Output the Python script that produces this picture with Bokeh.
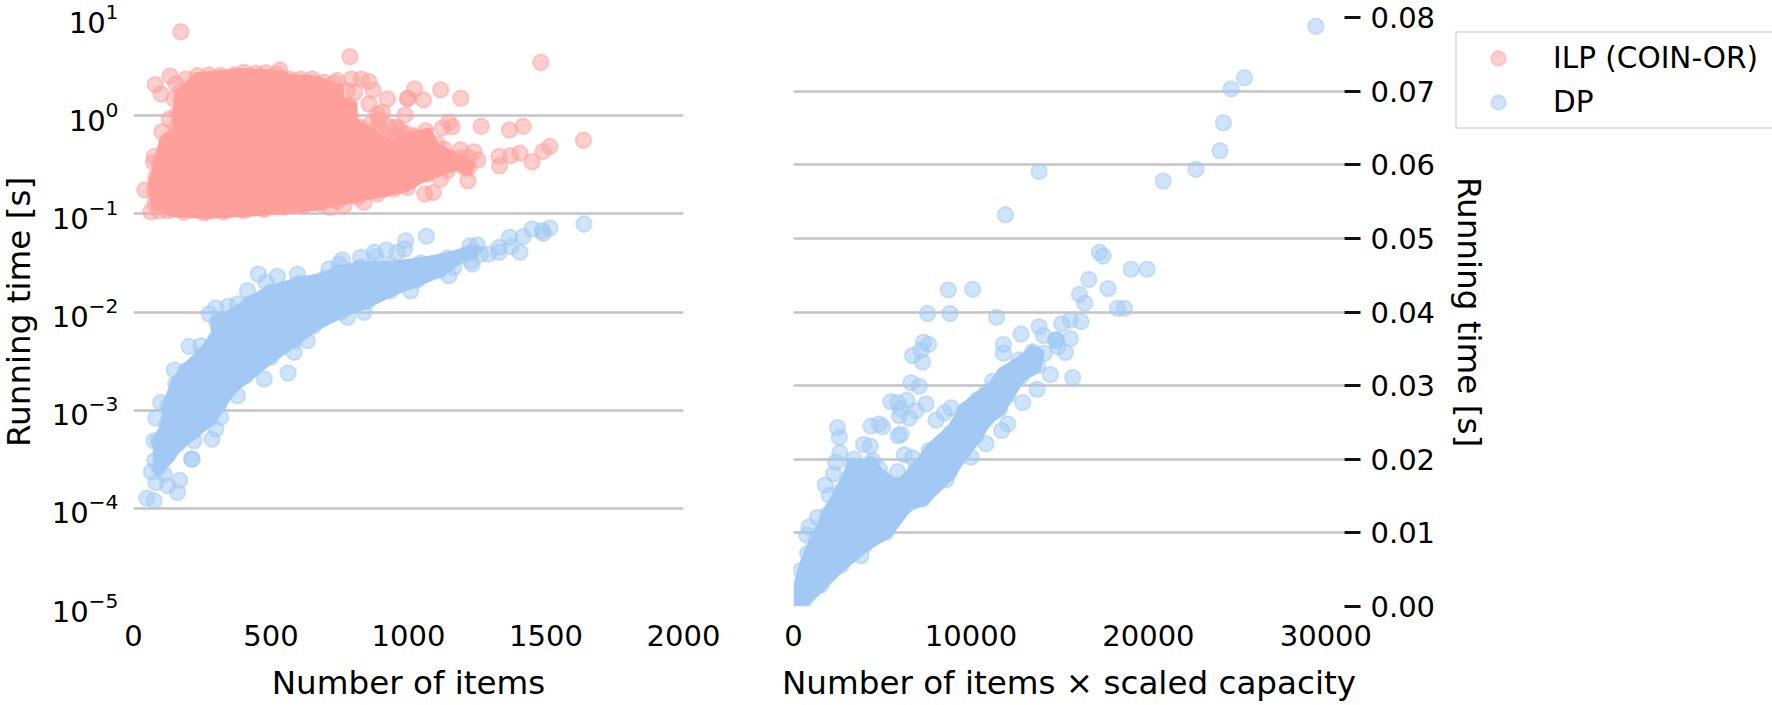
from bokeh.embed import file_html
from bokeh.resources import INLINE
from bokeh.plotting import figure
from bokeh.layouts import row
from bokeh.models import FixedTicker, Legend, LegendItem, NumeralTickFormatter

# Values.  The x,y pairs are the individually visible markers;
# the *_dense_* arrays trace the outline of the regions where the markers merge into
# one solid colour and cannot be told apart.
ILP_COLOR = "#ff9f9b"
DP_COLOR = "#a1c9f4"
FONT = "DejaVu Sans"

# --- left panel: number of items vs log10(running time in seconds)
ilp_items = [172,787,1481,1636,79,133,100,190,154,532,741,792,829,856,871,804,923,1022,1117,1190,996,998,1054,856,987,905,887,892,1147,1123,1159,1264,1367,1417,1514,1489,1449,1405,1371,1329,1331,1238,1252,1189,1216,1059,1090,1117,959,1062,1105,75,73,41,63,103,838,765,715,130,148,913,996,978,
             233,275,317,366,402,445,481,523,566,608,650,693,729,172,172,160,157,124,111,93,81,75,78,93,124,184,257,329,402,475,547,620,681,741,814,887,947,1008,1068,1141,1202,1220,1220,778,784,790,826,875,935,996,1068,1129,1189,
             923,947,971,996,911,947,984,1020,862,893]
ilp_log_time = [.856,.601,.544,-.251,.316,.404,.221,.374,.323,.465,.357,.374,.374,.347,.262,.238,.17,.272,.265,.177,.173,.18,.163,.119,.007,.034,.017,-.034,-.068,-.126,-.112,-.109,-.146,-.109,-.313,-.364,-.469,-.381,-.408,-.415,-.51,-.367,-.452,-.347,-.663,-.799,-.782,-.646,-.119,-.153,-.289,-.415,-.476,-.758,-.979,-.163,-.883,-.917,-.934,-.034,.17,-.748,-.731,-.221,
                .408,.415,.408,.418,.442,.432,.438,.425,.374,.374,.374,.340,.330,.255,.153,.017,-.119,-.255,-.357,-.493,-.629,-.765,-.900,-.968,-.968,-.985,-.989,-.982,-.968,-.955,-.934,-.917,-.900,-.873,-.832,-.798,-.748,-.663,-.595,-.561,-.527,-.425,-.527,.255,.102,-.017,-.119,-.153,-.255,-.238,-.238,-.340,-.425,
                -.102,-.119,-.153,-.187,-.204,-.221,-.272,-.204,-.085,-.119]
ilp_dense_items = [63,51,81,93,142,142,154,226,402,535,572,669,765,765,814,814,862,935,1020,1080,1111,1189,1244,1226,1177,1105,1044,996,838,669,475,269,136]
ilp_dense_log_time = [-.934,-.697,-.425,-.238,-.119,.051,.255,.442,.486,.466,.425,.408,.306,.187,.136,-.034,-.119,-.238,-.153,-.119,-.289,-.391,-.493,-.629,-.561,-.629,-.697,-.781,-.866,-.968,-1.019,-1.053,-1.036]

dp_items = [1638,1514,1490,1486,1450,1417,1367,1373,1329,1329,1405,1232,1262,1292,1250,1223,1065,990,986,959,919,875,881,826,759,747,711,454,523,596,414,481,299,275,344,378,202,245,148,99,81,562,475,378,632,584,778,838,1008,1147,317,299,285,220,212,212,75,77,65,81,111,168,124,160,48,75,
            93,97,90,121,126,154,190,247,299,303,368,426,499,602,695,744,826,935,1044,1141,1226,1226,1165,1111,1032,935,850,753,656,584,499,408,348,308,275,220,160,124]
dp_log_time = [-1.103,-1.144,-1.198,-1.171,-1.154,-1.232,-1.239,-1.334,-1.341,-1.392,-1.392,-1.511,-1.409,-1.409,-1.317,-1.324,-1.229,-1.273,-1.358,-1.392,-1.368,-1.392,-1.436,-1.443,-1.467,-1.511,-1.562,-1.613,-1.636,-1.613,-1.783,-1.698,-1.959,-2.020,-1.942,-1.918,-2.350,-2.343,-2.591,-2.921,-3.081,-2.622,-2.683,-2.853,-2.292,-2.411,-2.054,-2.003,-1.783,-1.630,-3.074,-3.193,-3.295,-3.312,-3.498,-3.498,-3.312,-3.515,-3.628,-3.736,-3.651,-3.713,-3.769,-3.838,-3.896,-3.923,
               -3.583,-3.465,-3.312,-3.142,-2.955,-2.734,-2.598,-2.445,-2.275,-2.105,-2.027,-1.912,-1.793,-1.708,-1.657,-1.589,-1.538,-1.528,-1.500,-1.450,-1.392,-1.477,-1.545,-1.579,-1.674,-1.783,-1.891,-2.003,-2.139,-2.292,-2.462,-2.649,-2.785,-2.955,-3.091,-3.210,-3.346,-3.465]
dp_dense_items = [93,69,75,65,99,105,136,172,233,281,281,354,414,487,596,693,741,826,935,1044,1141,1238,1268,1250,1189,1129,1044,947,862,765,669,596,511,426,366,329,293,233,172,136]
dp_dense_log_time = [-3.668,-3.617,-3.481,-3.312,-3.142,-2.938,-2.700,-2.547,-2.394,-2.224,-2.054,-1.969,-1.850,-1.732,-1.647,-1.596,-1.528,-1.477,-1.477,-1.443,-1.392,-1.307,-1.341,-1.443,-1.511,-1.630,-1.732,-1.834,-1.952,-2.054,-2.190,-2.343,-2.513,-2.700,-2.836,-3.006,-3.142,-3.278,-3.414,-3.549]

# --- right panel: items x scaled capacity vs running time in seconds
dp_product = [29436,25415,24660,24225,24035,22675,20830,13837,11938,17240,17446,19026,19928,16638,17728,16112,16412,18255,18650,8723,10096,7558,8817,11449,16206,15604,15115,13837,12822,15604,14081,11825,11825,7332,7614,6712,7182,15322,14796,14796,14796,14890,13480,14138,12690,
              15736,14476,13724,12916,7088,6618,7276,5490,5866,6392,7464,6900,6054,5960,6524,6054,5903,8874,8498,8028,4832,4361,5020,2482,2576,2613,2388,2256,1786,2012,3948,4324,6242,6712,3422,4832,4456,5866,884,752,1354,12070,11731,10848,10002,8592,11224,10848,3798,
              414,790,1260,1955,2670,3328,4362,5020,5828,6900,7652,8874,9626,10378,11130,11882,13010,13668,13762,12822,12070,11600,10848,10284,9532,8780,7276,6336,5208,4080,2670,1542,602]
dp_seconds = [.0788,.0718,.0703,.0657,.0619,.0594,.0578,.0591,.0532,.0481,.0476,.0458,.0458,.0444,.0432,.0424,.0412,.0405,.0405,.0430,.0431,.0398,.0398,.0393,.0387,.0389,.0384,.0380,.0370,.0364,.0368,.0356,.0344,.0359,.0356,.0341,.0348,.0345,.0362,.0362,.0362,.0353,.0346,.0344,.0335,
              .0311,.0315,.0295,.0277,.0299,.0304,.0332,.0278,.0277,.0280,.0275,.0266,.0268,.0259,.0256,.0234,.0232,.0270,.0263,.0253,.0248,.0245,.0244,.0243,.0230,.0209,.0196,.0180,.0165,.0151,.0220,.0218,.0206,.0202,.0200,.0187,.0198,.0183,.0108,.0097,.0121,.0248,.0239,.0221,.0203,.0172,.0306,.0290,.0069,
              .0049,.0072,.0090,.0126,.0157,.0191,.0194,.0175,.0166,.0187,.0212,.0236,.0266,.0281,.0293,.0315,.0333,.0342,.0327,.0313,.0286,.0268,.0254,.0232,.0209,.0182,.0146,.0137,.0101,.0085,.0056,.0029,.0009]
dp_dense_product = [0,0,0,320,602,978,1636,2388,3140,4456,5208,5866,6806,7558,8686,9438,10190,10942,11600,12822,13386,14138,13950,13010,12352,11882,11130,10566,9814,9062,7558,6618,5490,4362,2858,1730,884]
dp_dense_seconds = [0,.0009,.0031,.0058,.0076,.0094,.0130,.0162,.0200,.0202,.0182,.0173,.0196,.0221,.0245,.0275,.0290,.0302,.0324,.0342,.0356,.0347,.0320,.0306,.0281,.0261,.0248,.0225,.0202,.0175,.0139,.0130,.0094,.0078,.0049,.0022,.0002]

left_xticks = [0, 500, 1000, 1500, 2000]
left_yticks = [1e-5, 1e-4, 1e-3, 1e-2, 1e-1, 1, 10]
right_xticks = [0, 10000, 20000, 30000]
right_yticks = [0, .01, .02, .03, .04, .05, .06, .07, .08]


def logs(vals):
    return [10 ** v for v in vals]


def marks(p, x, y, color):
    return p.scatter(x, y, size=15.5, fill_color=color, fill_alpha=0.5,
                     line_color=color, line_alpha=0.5, line_width=2)


def style(p):
    p.outline_line_color = None
    p.background_fill_color = None
    p.border_fill_color = None
    p.xgrid.visible = False
    p.ygrid.grid_line_color = "#c4c4c4"
    p.ygrid.grid_line_width = 2.4
    p.ygrid.level = "underlay"
    for ax in (p.xaxis[0], p.yaxis[0]):
        ax.axis_line_color = None
        ax.minor_tick_line_color = None
        ax.major_label_text_font = FONT
        ax.major_label_text_font_size = "29px"
        ax.major_label_text_color = "#000000"
        ax.axis_label_text_font = FONT
        ax.axis_label_text_font_size = "32.6px"
        ax.axis_label_text_font_style = "normal"
        ax.axis_label_text_color = "#000000"
    p.xaxis[0].major_tick_line_color = None
    p.xaxis[0].major_label_standoff = 12
    p.xaxis[0].axis_label_standoff = 15


p1 = figure(width=766, height=705, output_backend="svg", toolbar_location=None,
            x_range=(0, 2000), y_range=(1e-5, 10), y_axis_type="log",
            min_border_left=139, min_border_right=77, min_border_top=17, min_border_bottom=99,
            margin=(0, 0, 0, -6),
            x_axis_label="Number of items", y_axis_label="Running time [s]")
style(p1)
p1.xaxis[0].ticker = FixedTicker(ticks=left_xticks)
p1.yaxis[0].ticker = FixedTicker(ticks=left_yticks)
p1.yaxis[0].major_tick_line_color = None
p1.yaxis[0].major_label_standoff = 9
p1.yaxis[0].axis_label_standoff = 11
p1.patch(ilp_dense_items, logs(ilp_dense_log_time), fill_color=ILP_COLOR, line_color=None)
marks(p1, ilp_items, logs(ilp_log_time), ILP_COLOR)
p1.patch(dp_dense_items, logs(dp_dense_log_time), fill_color=DP_COLOR, line_color=None)
marks(p1, dp_items, logs(dp_log_time), DP_COLOR)

p2 = figure(width=745, height=705, output_backend="svg", toolbar_location=None,
            x_range=(0, 31050), y_range=(0, 0.08), y_axis_location="right",
            min_border_left=33, min_border_right=161, min_border_top=17, min_border_bottom=99,
            x_axis_label="Number of items \u00d7 scaled capacity", y_axis_label="Running time [s]")
style(p2)
p2.xaxis[0].ticker = FixedTicker(ticks=right_xticks)
p2.yaxis[0].ticker = FixedTicker(ticks=right_yticks)
p2.yaxis[0].formatter = NumeralTickFormatter(format="0.00")
p2.yaxis[0].major_tick_line_color = "#111111"
p2.yaxis[0].major_tick_line_width = 3
p2.yaxis[0].major_tick_out = 16
p2.yaxis[0].major_tick_in = 0
p2.yaxis[0].major_label_standoff = 10
p2.yaxis[0].axis_label_standoff = 12
p2.yaxis[0].axis_label_orientation = "vertical"
p2.patch(dp_dense_product, dp_dense_seconds, fill_color=DP_COLOR, line_color=None)
marks(p2, dp_product, dp_seconds, DP_COLOR)

# Transparent strip over the right margin that only carries the legend, because a legend
# is clipped to the plot frame it belongs to.  Its two NaN rows only provide legend glyphs.
p3 = figure(width=318, height=705, output_backend="svg", toolbar_location=None,
            x_range=(0, 1), y_range=(0, 1), x_axis_location=None, y_axis_location=None,
            min_border_left=0, min_border_right=0, min_border_top=0, min_border_bottom=0,
            margin=(0, 0, 0, -51))
p3.outline_line_color = None
p3.background_fill_color = None
p3.border_fill_color = None
p3.grid.visible = False
r_ilp = marks(p3, [float("nan")], [float("nan")], ILP_COLOR)
r_dp = marks(p3, [float("nan")], [float("nan")], DP_COLOR)

legend = Legend(items=[LegendItem(label="ILP (COIN-OR)", renderers=[r_ilp], index=0),
                       LegendItem(label="DP", renderers=[r_dp], index=0)],
                location=(1, 477), orientation="vertical",
                label_text_font=FONT, label_text_font_size="29.5px", label_text_color="#000000",
                glyph_width=68, glyph_height=36, label_standoff=21, label_width=212, spacing=8,
                padding=7, margin=0, border_line_color="#c8c8c8", border_line_width=2,
                background_fill_alpha=0.8)
p3.add_layout(legend, "center")

layout = row(p1, p2, p3)
open("out.html", "w").write(file_html(layout, INLINE))
